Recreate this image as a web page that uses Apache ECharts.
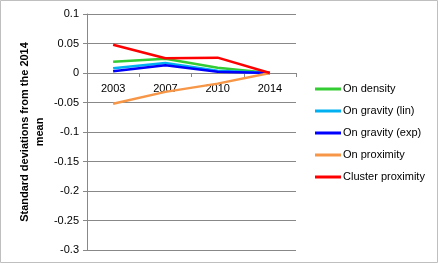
<!DOCTYPE html>
<html>
<head>
<meta charset="utf-8">
<script src="https://cdn.jsdelivr.net/npm/echarts@6/dist/echarts.min.js"></script>
<style>
  html, body { margin: 0; padding: 0; background: #fff; }
  #chart { width: 440px; height: 265px; }
</style>
</head>
<body>
<div id="chart"></div>
<script>
// years on the x axis
var years = ['2003', '2007', '2010', '2014'];

// standard deviations from the 2014 mean
var onDensity = [0.019, 0.024, 0.009, 0];
var onGravityLin = [0.008, 0.017, 0.004, 0];
var onGravityExp = [0.003, 0.013, 0.002, 0];
var onProximity = [-0.052, -0.032, -0.018, 0];
var clusterProximity = [0.048, 0.025, 0.026, 0];

var seriesNames = ['On density', 'On gravity (lin)', 'On gravity (exp)', 'On proximity', 'Cluster proximity'];
var seriesColors = ['#33cc33', '#00b0f0', '#0000ff', '#f79646', '#ff0000'];
var seriesData = [onDensity, onGravityLin, onGravityExp, onProximity, clusterProximity];

var yMin = -0.3;
var yMax = 0.1;

var font = 'Liberation Sans, Arial, sans-serif';
var gridTop = 14;
var gridBottom = 15;
var plotH = 265 - gridTop - gridBottom;
// move the category axis up to the zero line
var zeroOffset = -plotH * (0 - yMin) / (yMax - yMin);

var myChart = echarts.init(document.getElementById('chart'));

var option = {
  animation: false,
  textStyle: { fontFamily: font },
  graphic: [{
    type: 'rect',
    shape: { x: 0.5, y: 0.5, width: 437, height: 262 },
    style: { fill: 'none', stroke: '#bfbfbf', lineWidth: 1 },
    silent: true
  }],
  legend: {
    orient: 'vertical',
    left: 310,
    top: 78,
    itemWidth: 26,
    itemHeight: 3,
    itemGap: 10,
    icon: 'rect',
    textStyle: { fontSize: 11, color: '#000', fontFamily: font, padding: [0, 0, 0, -3], lineHeight: 12 },
    data: seriesNames
  },
  grid: {
    left: 87,
    right: 144,
    top: gridTop,
    bottom: gridBottom
  },
  xAxis: {
    type: 'category',
    data: years,
    boundaryGap: true,
    position: 'bottom',
    offset: zeroOffset,
    axisLine: { onZero: false, lineStyle: { color: '#888', width: 1 } },
    axisTick: { show: true, length: 4, lineStyle: { color: '#888' } },
    axisLabel: { color: '#000', fontSize: 11, margin: 10, fontFamily: font }
  },
  yAxis: {
    type: 'value',
    min: yMin,
    max: yMax,
    interval: 0.05,
    name: 'Standard deviations from the 2014\nmean',
    nameLocation: 'middle',
    nameGap: 40,
    nameTextStyle: { fontSize: 11, fontWeight: 'bold', color: '#000', fontFamily: font, lineHeight: 15 },
    axisLine: { show: true, lineStyle: { color: '#888' } },
    axisTick: { show: true, length: 4, lineStyle: { color: '#888' } },
    axisLabel: {
      color: '#000',
      fontSize: 11,
      margin: 8,
      fontFamily: font,
      formatter: function (v) {
        return String(parseFloat(v.toFixed(2)));
      }
    },
    splitLine: { show: true, lineStyle: { color: '#888', width: 1 } }
  },
  series: seriesNames.map(function (name, i) {
    return {
      name: name,
      type: 'line',
      data: seriesData[i],
      symbol: 'none',
      lineStyle: { width: 2.5, color: seriesColors[i] },
      itemStyle: { color: seriesColors[i] }
    };
  })
};

myChart.setOption(option);
</script>
</body>
</html>
